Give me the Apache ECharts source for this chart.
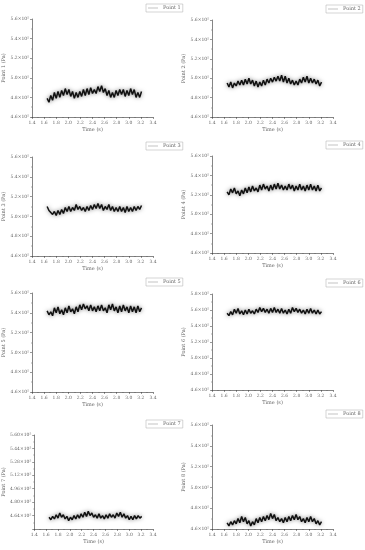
<!DOCTYPE html>
<html>
<head>
<meta charset="utf-8">
<script src="https://cdn.jsdelivr.net/npm/echarts@6/dist/echarts.min.js"></script>
<style>
  html, body { margin: 0; padding: 0; background: #fff; }
  #main { width: 365px; height: 550px; }
</style>
</head>
<body>
<div id="main"></div>
<script>
// sample times (s)
var times = [1.65,1.68,1.71,1.74,1.77,1.80,1.83,1.86,1.89,1.92,1.95,1.98,2.01,2.04,2.07,2.10,2.13,2.16,2.19,2.22,
             2.25,2.28,2.31,2.34,2.37,2.40,2.43,2.46,2.49,2.52,2.55,2.58,2.61,2.64,2.67,2.70,2.73,2.76,2.79,2.82,
             2.85,2.88,2.91,2.94,2.97,3.00,3.03,3.06,3.09,3.12,3.15,3.18,3.21];

// pressure at each point, x10^5 Pa
var point1 = [4.79,4.75,4.82,4.77,4.85,4.79,4.86,4.80,4.87,4.82,4.89,4.83,4.88,4.81,4.86,4.79,4.85,4.80,4.86,4.81,
              4.88,4.82,4.89,4.83,4.90,4.84,4.88,4.84,4.91,4.86,4.92,4.85,4.89,4.82,4.87,4.80,4.85,4.80,4.87,4.82,
              4.88,4.83,4.88,4.81,4.87,4.82,4.89,4.83,4.88,4.80,4.85,4.80,4.86];
var point2 = [4.95,4.91,4.96,4.90,4.95,4.92,4.97,4.93,4.98,4.93,4.99,4.94,5.00,4.94,4.98,4.92,4.97,4.91,4.96,4.92,
              4.98,4.93,4.99,4.95,5.00,4.96,5.01,4.97,5.02,4.97,5.03,4.96,5.02,4.95,5.00,4.94,4.98,4.93,4.97,4.93,
              4.99,4.95,5.01,4.96,5.02,4.95,5.00,4.95,4.99,4.94,4.98,4.92,4.96];
var point3 = [5.10,5.06,5.07,5.02,5.05,5.01,5.06,5.02,5.07,5.03,5.09,5.05,5.10,5.05,5.09,5.06,5.12,5.07,5.10,5.06,
              5.09,5.05,5.10,5.06,5.11,5.07,5.12,5.08,5.13,5.08,5.12,5.06,5.10,5.07,5.12,5.06,5.10,5.05,5.09,5.05,
              5.10,5.05,5.09,5.04,5.10,5.05,5.09,5.05,5.10,5.06,5.10,5.07,5.11];
var point4 = [5.23,5.20,5.26,5.22,5.27,5.21,5.24,5.19,5.25,5.21,5.27,5.22,5.28,5.23,5.29,5.24,5.27,5.23,5.30,5.25,
              5.31,5.26,5.29,5.24,5.30,5.25,5.31,5.26,5.32,5.26,5.30,5.25,5.29,5.25,5.31,5.26,5.30,5.24,5.29,5.25,
              5.31,5.25,5.29,5.24,5.30,5.25,5.31,5.25,5.29,5.24,5.30,5.24,5.27];
var point5 = [5.42,5.38,5.41,5.37,5.45,5.40,5.46,5.39,5.43,5.38,5.45,5.40,5.47,5.41,5.44,5.39,5.46,5.41,5.48,5.43,
              5.49,5.44,5.47,5.42,5.48,5.42,5.46,5.41,5.47,5.42,5.48,5.42,5.45,5.40,5.48,5.43,5.49,5.42,5.46,5.40,
              5.47,5.41,5.48,5.42,5.46,5.40,5.47,5.41,5.46,5.40,5.47,5.41,5.45];
var point6 = [5.56,5.53,5.58,5.54,5.61,5.56,5.62,5.55,5.59,5.54,5.60,5.55,5.61,5.56,5.59,5.55,5.61,5.57,5.63,5.58,
              5.62,5.57,5.61,5.56,5.62,5.57,5.63,5.57,5.61,5.56,5.62,5.56,5.60,5.55,5.61,5.56,5.63,5.58,5.62,5.57,
              5.61,5.56,5.60,5.55,5.61,5.56,5.62,5.56,5.60,5.55,5.60,5.55,5.58];
var point7 = [4.62,4.59,4.63,4.60,4.65,4.61,4.67,4.62,4.65,4.60,4.63,4.58,4.62,4.59,4.64,4.60,4.65,4.61,4.66,4.62,
              4.68,4.63,4.69,4.64,4.67,4.62,4.65,4.61,4.66,4.61,4.64,4.60,4.65,4.61,4.66,4.62,4.65,4.61,4.67,4.63,
              4.68,4.62,4.66,4.61,4.64,4.59,4.63,4.59,4.64,4.60,4.64,4.61,4.63];
var point8 = [4.66,4.63,4.67,4.64,4.68,4.65,4.70,4.66,4.72,4.67,4.71,4.65,4.68,4.63,4.67,4.64,4.70,4.66,4.71,4.67,
              4.72,4.68,4.73,4.69,4.75,4.70,4.74,4.68,4.71,4.67,4.70,4.66,4.71,4.67,4.72,4.68,4.73,4.69,4.74,4.69,
              4.72,4.67,4.70,4.66,4.71,4.67,4.72,4.67,4.70,4.65,4.68,4.64,4.67];

var names = ['Point 1','Point 2','Point 3','Point 4','Point 5','Point 6','Point 7','Point 8'];
var values = [point1, point2, point3, point4, point5, point6, point7, point8];

// y axis ranges per panel [min, max, interval, decimals]
var yRanges = [[4.6,5.6,0.2,1],[4.6,5.6,0.2,1],[4.6,5.6,0.2,1],[4.6,5.6,0.2,1],
               [4.6,5.6,0.2,1],[4.6,5.8,0.2,1],[4.48,5.6,0.16,2],[4.6,5.6,0.2,1]];

// panel boxes [left, top, width, height]
var boxes = [[32,19,121,98],[212,20,121,97],[32,157,121,99],[212,156,121,97],
             [32,293,121,99],[212,294,121,96],[32,435,121,94],[212,425,121,104]];

var font = 'DejaVu Serif';
var grey = '#666';

var grids = [], xAxes = [], yAxes = [], series = [], legends = [];

boxes.forEach(function (b, i) {
    grids.push({left: b[0], top: b[1], width: b[2], height: b[3]});

    xAxes.push({
        type: 'value', gridIndex: i, min: 1.4, max: 3.4, interval: 0.2,
        name: 'Time (s)', nameLocation: 'middle', nameGap: 10,
        nameTextStyle: {fontFamily: font, fontSize: 5, color: grey},
        axisLine: {lineStyle: {color: '#333', width: 0.6}},
        axisTick: {length: 2, lineStyle: {color: '#333', width: 0.5}},
        minorTick: {show: true, splitNumber: 2, length: 1, lineStyle: {color: '#333', width: 0.4}},
        splitLine: {show: false},
        axisLabel: {fontFamily: font, fontSize: 4.5, color: grey, margin: 3,
            formatter: function (v) { return v.toFixed(1); }}
    });

    var r = yRanges[i];
    yAxes.push({
        type: 'value', gridIndex: i, min: r[0], max: r[1], interval: r[2],
        name: names[i] + ' (Pa)', nameLocation: 'middle', nameGap: 22,
        nameTextStyle: {fontFamily: font, fontSize: 5, color: grey},
        axisLine: {show: true, lineStyle: {color: '#333', width: 0.6}},
        axisTick: {length: 2, lineStyle: {color: '#333', width: 0.5}},
        minorTick: {show: true, splitNumber: 2, length: 1, lineStyle: {color: '#333', width: 0.4}},
        splitLine: {show: false},
        axisLabel: {fontFamily: font, fontSize: 4.5, color: grey, margin: 3,
            showMinLabel: i !== 6,
            formatter: function (v) { return v.toFixed(r[3]) + '×10⁵'; }}
    });

    series.push({
        name: names[i], type: 'line', xAxisIndex: i, yAxisIndex: i,
        showSymbol: false, symbol: 'none', animation: false,
        lineStyle: {color: '#111', width: 1.5, shadowBlur: 4, shadowColor: 'rgba(0,0,0,0.5)'},
        itemStyle: {color: '#999'},
        data: values[i].map(function (v, k) { return [times[k], v]; })
    });

    legends.push({
        data: [names[i]], left: b[0] + 114, top: b[1] - 15,
        orient: 'horizontal', icon: 'rect', itemWidth: 10, itemHeight: 0.6, itemGap: 2,
        itemStyle: {color: '#999'},
        lineStyle: {color: '#999', width: 0.6, shadowBlur: 0, shadowColor: 'transparent'},
        padding: [1.5, 2], borderColor: '#aaa', borderWidth: 0.5,
        textStyle: {fontFamily: font, fontSize: 5, color: grey}
    });
});

var chart = echarts.init(document.getElementById('main'));
chart.setOption({
    backgroundColor: '#fff',
    grid: grids,
    xAxis: xAxes,
    yAxis: yAxes,
    legend: legends,
    series: series
});
</script>
</body>
</html>
